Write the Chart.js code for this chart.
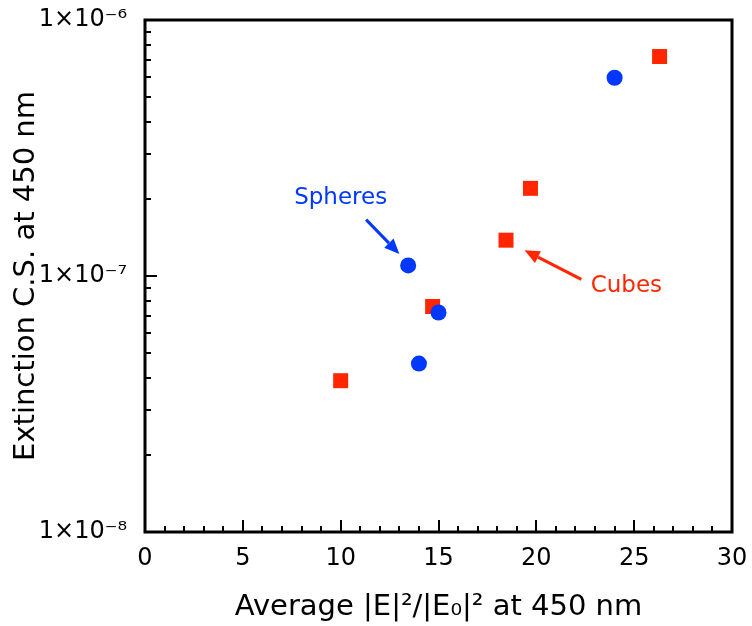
<!DOCTYPE html>
<html>
<head>
<meta charset="utf-8">
<script src="https://cdn.jsdelivr.net/npm/chart.js@4/dist/chart.umd.min.js"></script>
<style>
  html, body { margin: 0; padding: 0; background: #fff; }
  #wrap { width: 752px; height: 626px; }
</style>
</head>
<body>
<div id="wrap"><canvas id="extChart"></canvas></div>
<script>
// values
const sphereX = [13.45, 15.0, 14.0, 24.0];
const sphereY = [1.10e-7, 7.2e-8, 4.55e-8, 5.95e-7];
const cubeX = [10.0, 14.7, 18.45, 19.7, 26.3];
const cubeY = [3.9e-8, 7.6e-8, 1.38e-7, 2.2e-7, 7.2e-7];
const yTickValues = [1e-8, 1e-7, 1e-6];
const yTickLabels = ['1×10⁻⁸', '1×10⁻⁷', '1×10⁻⁶'];

const blue = '#0038ff';
const red = '#ff2600';
const FONT = '"DejaVu Sans", sans-serif';

// labels with arrows, in data coordinates
const notes = [
  { text: 'Spheres', color: blue, at: [10, 2.01e-7], from: [11.3, 1.66e-7], to: [13.0, 1.22e-7] },
  { text: 'Cubes', color: red, at: [24.6, 9.1e-8], from: [22.3, 9.7e-8], to: [19.4, 1.26e-7] }
];

const toPts = (xs, ys) => xs.map((x, i) => ({ x: x, y: ys[i] }));

const frameTicks = {
  id: 'frameTicks',
  afterDatasetsDraw(chart) {
    const { ctx, chartArea: a, scales } = chart;
    const x = scales.x, y = scales.y;
    ctx.save();
    ctx.strokeStyle = '#000';
    ctx.lineWidth = 2;
    ctx.beginPath();
    for (let v = 1; v < 30; v++) {
      const px = Math.round(x.getPixelForValue(v));
      const len = v % 5 === 0 ? 12 : 6;
      ctx.moveTo(px, a.bottom); ctx.lineTo(px, a.bottom - len);
    }
    for (let e = -8; e < -6; e++) {
      for (let m = 1; m < 10; m++) {
        if (e === -8 && m === 1) continue;
        const py = Math.round(y.getPixelForValue(m * Math.pow(10, e)));
        const len = m === 1 ? 12 : 6;
        ctx.moveTo(a.left, py); ctx.lineTo(a.left + len, py);
      }
    }
    ctx.stroke();
    ctx.lineWidth = 3;
    ctx.strokeRect(a.left, a.top, a.right - a.left, a.bottom - a.top);
    ctx.restore();
  }
};

const arrowNotes = {
  id: 'arrowNotes',
  afterDraw(chart) {
    const { ctx, scales } = chart;
    const px = p => [scales.x.getPixelForValue(p[0]), scales.y.getPixelForValue(p[1])];
    ctx.save();
    notes.forEach(n => {
      const [tx, ty] = px(n.at);
      ctx.fillStyle = n.color;
      ctx.font = '23px ' + FONT;
      ctx.textAlign = 'center';
      ctx.textBaseline = 'middle';
      ctx.fillText(n.text, tx, ty);
      const [x1, y1] = px(n.from);
      const [x2, y2] = px(n.to);
      const ang = Math.atan2(y2 - y1, x2 - x1);
      const head = 15, half = 6.5;
      const bx = x2 - head * Math.cos(ang), by = y2 - head * Math.sin(ang);
      ctx.strokeStyle = n.color;
      ctx.lineWidth = 3;
      ctx.beginPath();
      ctx.moveTo(x1, y1); ctx.lineTo(bx, by);
      ctx.stroke();
      ctx.beginPath();
      ctx.moveTo(x2, y2);
      ctx.lineTo(bx - half * Math.sin(ang), by + half * Math.cos(ang));
      ctx.lineTo(bx + half * Math.sin(ang), by - half * Math.cos(ang));
      ctx.closePath();
      ctx.fill();
    });
    ctx.restore();
  }
};

new Chart(document.getElementById('extChart').getContext('2d'), {
  type: 'scatter',
  plugins: [frameTicks, arrowNotes],
  data: {
    datasets: [
      {
        label: 'Spheres',
        data: toPts(sphereX, sphereY),
        pointStyle: 'circle',
        pointRadius: 8,
        pointHoverRadius: 8,
        backgroundColor: blue,
        borderWidth: 0
      },
      {
        label: 'Cubes',
        data: toPts(cubeX, cubeY),
        pointStyle: 'rect',
        pointRadius: 10.6,
        pointHoverRadius: 10.6,
        backgroundColor: red,
        borderWidth: 0
      }
    ]
  },
  options: {
    responsive: true,
    maintainAspectRatio: false,
    animation: false,
    layout: { padding: { top: 20, right: 20, left: 0, bottom: 0 } },
    plugins: {
      legend: { display: false },
      tooltip: { enabled: false }
    },
    scales: {
      x: {
        type: 'linear',
        min: 0,
        max: 30,
        grid: { display: false, drawTicks: false },
        border: { display: false },
        ticks: { stepSize: 5, padding: 12, color: '#000', font: { family: FONT, size: 24 } },
        title: {
          display: true,
          text: 'Average |E|²/|E₀|² at 450 nm',
          color: '#000',
          font: { family: FONT, size: 29 },
          padding: { top: 0, bottom: 1 }
        },
        afterFit: s => { s.height = 94; s.paddingLeft = 0; s.paddingRight = 0; }
      },
      y: {
        type: 'logarithmic',
        min: 1e-8,
        max: 1e-6,
        grid: { display: false, drawTicks: false },
        border: { display: false },
        afterBuildTicks: s => { s.ticks = yTickValues.map(v => ({ value: v })); },
        ticks: {
          padding: 18,
          color: '#000',
          font: { family: FONT, size: 24 },
          callback: v => {
            const i = yTickValues.findIndex(t => Math.abs(t - v) / t < 1e-6);
            return i >= 0 ? yTickLabels[i] : '';
          }
        },
        title: {
          display: true,
          text: 'Extinction C.S. at 450 nm',
          color: '#000',
          font: { family: FONT, size: 29 },
          padding: { top: 9, bottom: 0 }
        },
        afterFit: s => { s.width = 145; s.paddingTop = 0; s.paddingBottom = 0; }
      }
    }
  }
});
</script>
</body>
</html>
